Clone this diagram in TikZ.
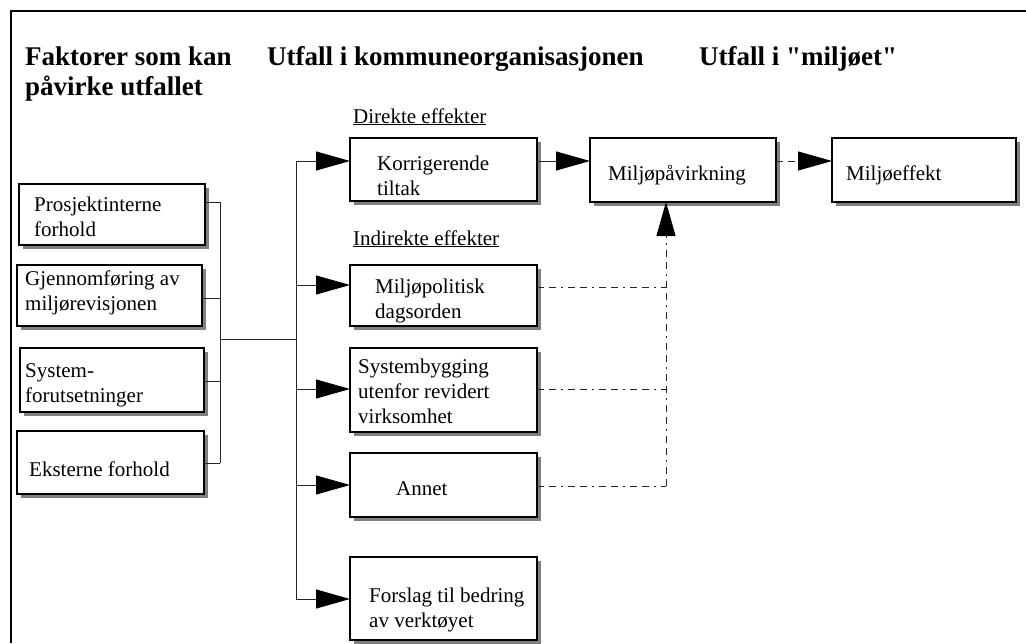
\documentclass[tikz,border=0pt]{standalone}
\usepackage{fontspec}
\setmainfont{Liberation Serif}[Ligatures=TeXOff]
\usetikzlibrary{arrows.meta,shadows}
\begin{document}
\begin{tikzpicture}[x=1pt,y=-1pt,
  box/.style={draw=black, line width=1.1pt, fill=white, inner sep=0pt, outer sep=0pt,
    anchor=north west,
    drop shadow={shadow xshift=4pt, shadow yshift=-4pt, fill=black!50, opacity=1}},
  txt/.style={anchor=base west, inner sep=0pt, align=left,
    font=\fontsize{21}{25}\selectfont},
  head/.style={anchor=base west, inner sep=0pt, align=left,
    font=\fontsize{27}{30}\selectfont\bfseries},
  conn/.style={draw=black!85, line width=0.9pt},
  big/.style={-{Triangle[length=34pt,width=19pt,black]}},
  dashdot/.style={draw=black!85, line width=0.9pt,
    dash pattern=on 7pt off 5pt on 7pt off 5pt on 2pt off 5pt},
]
\useasboundingbox (0,0) rectangle (1026,643);

% frame: top and left rules
\draw[line width=2.6pt] (11,643) -- (11,11) -- (1026,11);

% column headings (base anchor = baseline of the last line)
\node[head] (h1) at (25,95) {Faktorer som kan\\påvirke utfallet};
\node[head] (h2) at (267,65) {Utfall i kommuneorganisasjonen};
\node[head] (h3) at (699,65) {Utfall i "miljøet"};

% group labels
\node[txt] (ld) at (353,123) {\underline{Direkte effekter}};
\node[txt] (li) at (353,245) {\underline{Indirekte effekter}};

% factor boxes
\node[box, minimum width=186pt, minimum height=61pt] (b1) at (19,184) {};
\node[box, minimum width=185pt, minimum height=61pt] (b2) at (17,265) {};
\node[box, minimum width=184pt, minimum height=64pt] (b3) at (20,348) {};
\node[box, minimum width=187pt, minimum height=63pt] (b4) at (17,431) {};
\node[txt] (t1) at (34,236) {Prosjektinterne\\forhold};
\node[txt] (t2) at (25,310) {Gjennomføring av\\miljørevisjonen};
\node[txt] (t3) at (25,402) {System-\\forutsetninger};
\node[txt] (t4) at (29,476) {Eksterne forhold};

% outcome boxes
\node[box, minimum width=187pt, minimum height=63pt] (k)  at (350,138) {};
\node[box, minimum width=187pt, minimum height=61pt] (mp) at (350,265) {};
\node[box, minimum width=187pt, minimum height=84pt] (sb) at (350,348) {};
\node[box, minimum width=187pt, minimum height=64pt] (an) at (350,453) {};
\node[box, minimum width=187pt, minimum height=83pt] (fo) at (350,557) {};
\node[txt] (tk)  at (377,195) {Korrigerende\\tiltak};
\node[txt] (tmp) at (375,318) {Miljøpolitisk\\dagsorden};
\node[txt] (tsb) at (358,423) {Systembygging\\utenfor revidert\\virksomhet};
\node[txt] (tan) at (396,495) {Annet};
\node[txt] (tfo) at (369,627) {Forslag til bedring\\av verktøyet};

% environment boxes
\node[box, minimum width=186pt, minimum height=64pt] (mv) at (590,138) {};
\node[box, minimum width=184pt, minimum height=64pt] (me) at (832,138) {};
\node[txt] (tmv) at (608,180) {Miljøpåvirkning};
\node[txt] (tme) at (846,180) {Miljøeffekt};

% collector on the left
\coordinate (s1) at (220,202);
\coordinate (s2) at (220,298);
\coordinate (s3) at (220,381);
\coordinate (s4) at (220,463);
\coordinate (j1) at (220,339);
\coordinate (j2) at (296,339);
\draw[conn] (b1.east |- s1) -- (s1);
\draw[conn] (b2.east |- s2) -- (s2);
\draw[conn] (b3.east |- s3) -- (s3);
\draw[conn] (b4.east |- s4) -- (s4);
\draw[conn] (s1) -- (s4);
\draw[conn] (j1) -- (j2);

% distributor to the outcomes
\coordinate (lvK) at (296,161);
\coordinate (lvP) at (296,285);
\coordinate (lvS) at (296,389);
\coordinate (lvA) at (296,485);
\coordinate (lvF) at (296,599);
\draw[conn] (lvK) -- (lvF);
\draw[conn,big] (lvK) -- (k.west |- lvK);
\draw[conn,big] (lvP) -- (mp.west |- lvP);
\draw[conn,big] (lvS) -- (sb.west |- lvS);
\draw[conn,big] (lvA) -- (an.west |- lvA);
\draw[conn,big] (lvF) -- (fo.west |- lvF);

% direct chain
\draw[conn,big] (k.east |- lvK) -- (mv.west |- lvK);
\draw[dashdot,big] (mv.east |- lvK) -- (me.west |- lvK);

% indirect effects
\coordinate (dP) at (666,287);
\coordinate (dS) at (666,389);
\coordinate (dA) at (666,486);
\draw[dashdot] (mp.east |- dP) -- (dP);
\draw[dashdot] (sb.east |- dS) -- (dS);
\draw[dashdot] (an.east |- dA) -- (dA);
\draw[dashdot,big] (dA) -- (dA |- mv.south);
\end{tikzpicture}
\end{document}
